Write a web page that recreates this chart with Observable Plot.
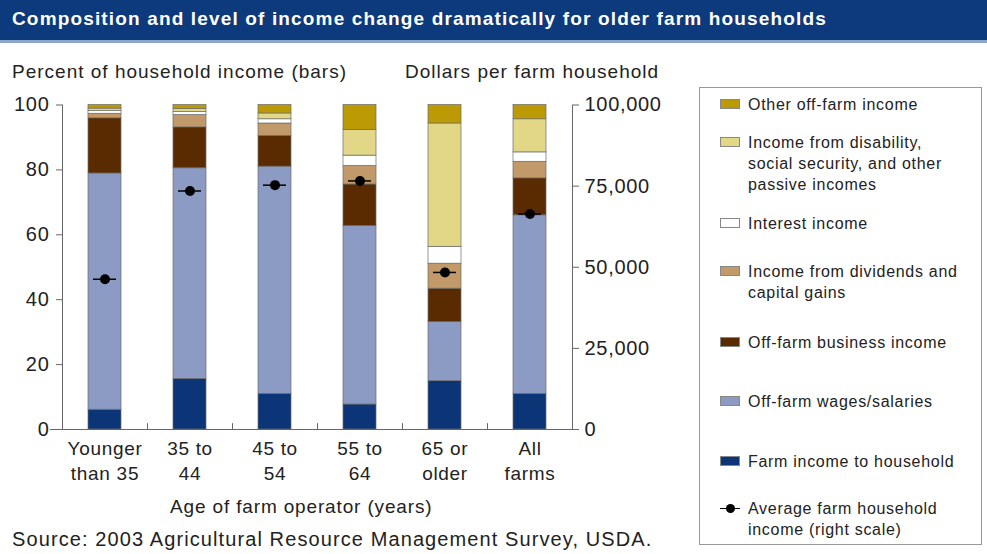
<!DOCTYPE html>
<html><head><meta charset="utf-8">
<script src="https://cdn.jsdelivr.net/npm/d3@7"></script>
<script src="https://cdn.jsdelivr.net/npm/@observablehq/plot@0.6"></script>
<style>
body{margin:0;background:#fff;font-family:"Liberation Sans",Arial,sans-serif;color:#222;}
#wrap{position:relative;width:987px;height:554px;overflow:hidden;}
#banner{position:absolute;left:0;top:0;width:987px;height:40px;background:#0c3a7c;border-bottom:3px solid #8ea6cc;}
#banner span{position:absolute;left:12px;top:8px;color:#fff;font-weight:bold;font-size:19px;letter-spacing:1.15px;}
.lbl{position:absolute;font-size:19px;color:#222;white-space:nowrap;}
#legend{position:absolute;left:699px;top:87px;width:283px;height:458px;border:1.5px solid #999;box-sizing:border-box;}
.li{position:absolute;left:48px;font-size:16px;line-height:21px;color:#222;letter-spacing:0.7px;white-space:nowrap;}
.sw{position:absolute;left:20px;width:20px;height:10px;border:1px solid #888;box-sizing:border-box;}
#chart{position:absolute;left:0;top:0;}
</style></head>
<body><div id="wrap">
<div id="chart"></div>
<div id="banner"><span>Composition and level of income change dramatically for older farm households</span></div>
<div class="lbl" style="left:12px;top:61px;letter-spacing:1px;">Percent of household income (bars)</div>
<div class="lbl" style="left:405px;top:61px;letter-spacing:1px;">Dollars per farm household</div>
<div class="lbl" style="left:170px;top:496px;letter-spacing:0.85px;">Age of farm operator (years)</div>
<div class="lbl" style="left:12px;top:528px;font-size:20px;letter-spacing:1.1px;">Source: 2003 Agricultural Resource Management Survey, USDA.</div>
<div id="legend"></div>
</div>
<script>
const categories = ["Younger than 35", "35 to 44", "45 to 54", "55 to 64", "65 or older", "All farms"];
const tickLabels = ["Younger\nthan 35", "35 to\n44", "45 to\n54", "55 to\n64", "65 or\nolder", "All\nfarms"];
const farmIncome   = [6.1, 15.6, 11.0, 7.7, 14.9, 11.0];
const wages        = [72.8, 64.9, 70.0, 55.0, 18.2, 55.0];
const business     = [17.0, 12.6, 9.5, 12.8, 10.3, 11.4];
const dividends    = [1.4, 3.8, 3.8, 5.7, 7.7, 5.1];
const interest     = [0.8, 0.9, 1.3, 3.2, 5.2, 2.9];
const disability   = [0.8, 1.0, 1.8, 7.9, 38.0, 10.2];
const otherOffFarm = [1.1, 1.2, 2.6, 7.7, 5.7, 4.4];
const avgIncome    = [46300, 73500, 75300, 76600, 48400, 66400];
const leftTicks = [0, 20, 40, 60, 80, 100];
const rightTicks = [0, 25000, 50000, 75000, 100000];

const seriesNames = ["Farm income to household", "Off-farm wages/salaries", "Off-farm business income",
  "Income from dividends and capital gains", "Interest income",
  "Income from disability, social security, and other passive incomes", "Other off-farm income"];
const seriesValues = [farmIncome, wages, business, dividends, interest, disability, otherOffFarm];
const seriesColors = ["#0b3576", "#8b9bc3", "#5a2b00", "#c29a6a", "#ffffff", "#e2d687", "#bb9a06"];

const rows = [];
categories.forEach((c, i) => seriesNames.forEach((s, j) => rows.push({category: c, series: s, value: seriesValues[j][i]})));
const pts = categories.map((c, i) => ({category: c, income: avgIncome[i]}));

const labelOf = new Map(categories.map((c, i) => [c, tickLabels[i]]));
const half = 42.5;

const chart = Plot.plot({
  width: 667, height: 554,
  marginLeft: 62, marginRight: 95, marginTop: 104.5, marginBottom: 125,
  style: {fontFamily: '"Liberation Sans", Arial, sans-serif', fontSize: "19px", color: "#222", background: "transparent", letterSpacing: "0.7px"},
  x: {domain: categories, paddingInner: 0.61, paddingOuter: 0.305, axis: null},
  y: {domain: [0, 100], axis: null},
  color: {domain: seriesNames, range: seriesColors},
  marks: [
    Plot.barY(rows, {x: "category", y: "value", fill: "series", stroke: "#6b6b6b", strokeWidth: 0.7}),
    Plot.tickY(pts, {x: "category", y: d => d.income / 1000, stroke: "#000", strokeWidth: 1.5, insetLeft: 5, insetRight: 5}),
    Plot.dot(pts, {x: "category", y: d => d.income / 1000, r: 5, fill: "#000"}),
    Plot.axisY({ticks: leftTicks, tickSize: 6, tickPadding: 7, stroke: "#666", fontSize: 20, label: null}),
    Plot.axisY({anchor: "right", ticks: rightTicks.map(d => d / 1000), tickFormat: d => d3.format(",")(d * 1000), tickSize: 6, tickPadding: 6, stroke: "#666", fontSize: 20, label: null}),
    Plot.ruleX([categories[0]], {x: d => d, y1: 0, y2: 100, dx: -half, stroke: "#666"}),
    Plot.ruleX([categories[categories.length - 1]], {x: d => d, y1: 0, y2: 100, dx: half, stroke: "#666"}),
    Plot.ruleY([0], {stroke: "#666", insetLeft: -12, insetRight: -6}),
    Plot.ruleX(categories.slice(1), {x: d => d, y1: 0, y2: 1.8, dx: -half, stroke: "#666"}),
    Plot.axisX({tickSize: 0, tickPadding: 8, tickFormat: d => labelOf.get(d), fontSize: 19, lineHeight: 1.3, label: null})
  ]
});
document.getElementById("chart").appendChild(chart);

// legend (top to bottom)
const legendItems = [
  {name: "Other off-farm income", color: "#bb9a06", y: 6},
  {name: "Income from disability,<br>social security, and other<br>passive incomes", color: "#e2d687", y: 44},
  {name: "Interest income", color: "#ffffff", y: 125},
  {name: "Income from dividends and<br>capital gains", color: "#c29a6a", y: 173},
  {name: "Off-farm business income", color: "#5a2b00", y: 244},
  {name: "Off-farm wages/salaries", color: "#8b9bc3", y: 303},
  {name: "Farm income to household", color: "#0b3576", y: 363},
  {name: "Average farm household<br>income (right scale)", color: null, y: 410}
];
const leg = document.getElementById("legend");
legendItems.forEach(it => {
  const t = document.createElement("div");
  t.className = "li"; t.style.top = it.y + "px"; t.innerHTML = it.name;
  leg.appendChild(t);
  if (it.color) {
    const s = document.createElement("div");
    s.className = "sw"; s.style.top = (it.y + 5) + "px"; s.style.background = it.color;
    leg.appendChild(s);
  } else {
    const l = document.createElement("div");
    l.style.cssText = `position:absolute;left:20px;top:${it.y + 10}px;width:20px;height:0;border-top:1.5px solid #000;`;
    const d = document.createElement("div");
    d.style.cssText = `position:absolute;left:26px;top:${it.y + 6}px;width:9px;height:9px;border-radius:50%;background:#000;`;
    leg.appendChild(l); leg.appendChild(d);
  }
});
</script>
</body></html>
